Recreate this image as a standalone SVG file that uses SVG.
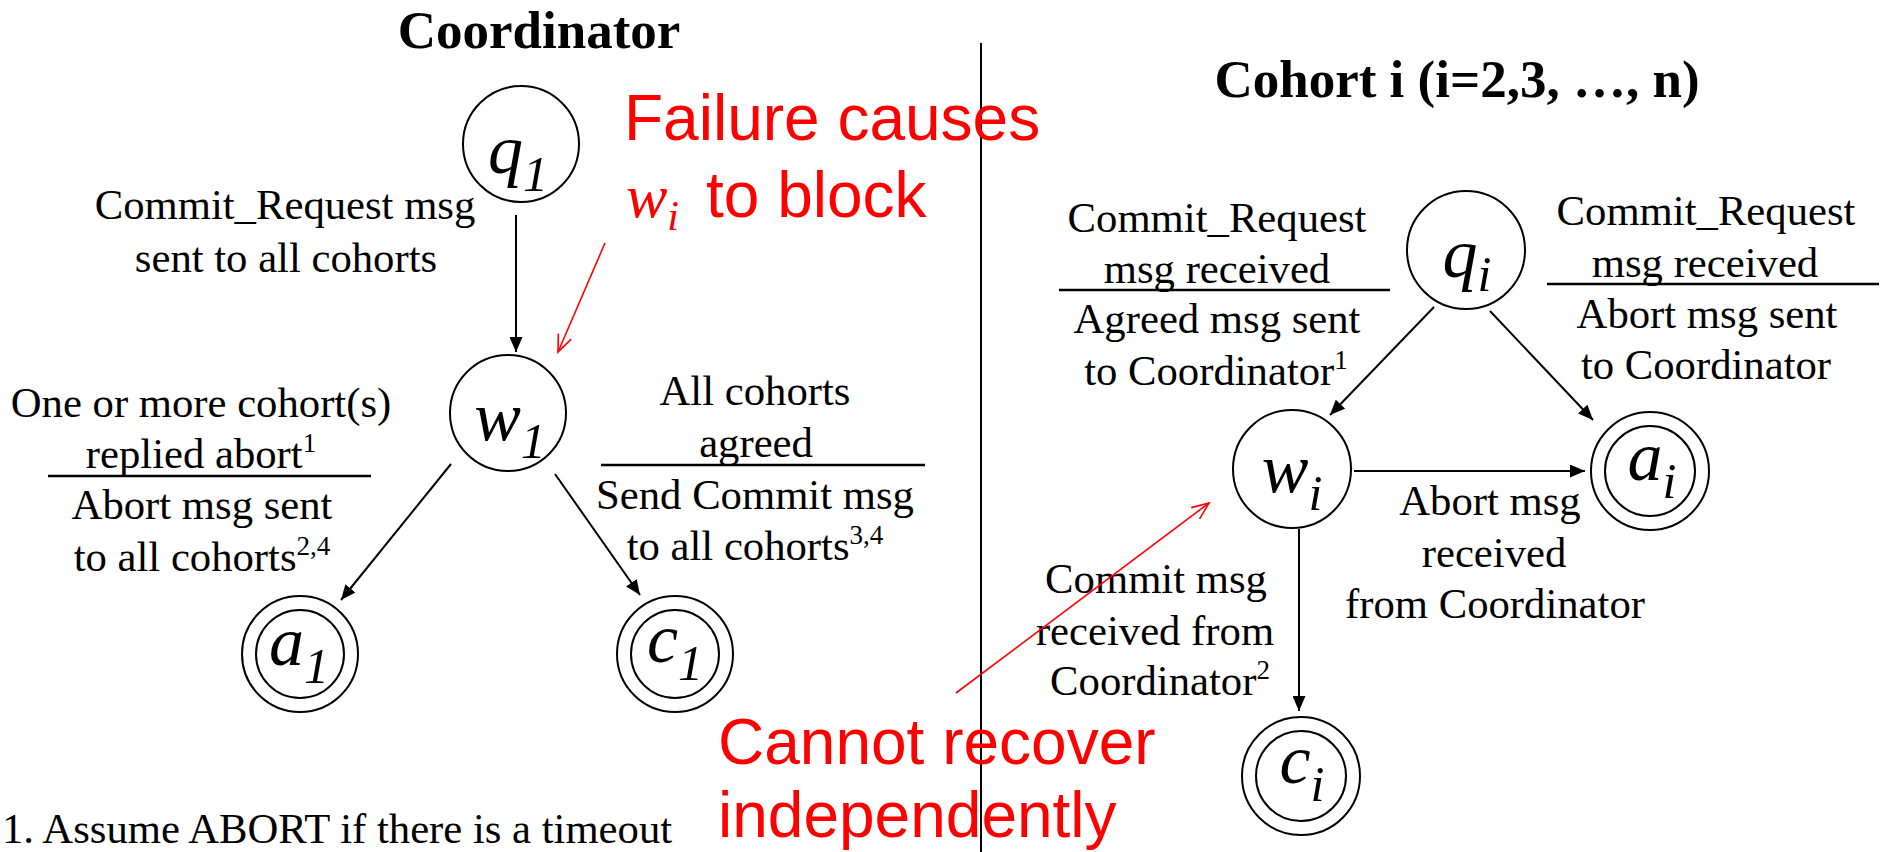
<svg xmlns="http://www.w3.org/2000/svg" width="1896" height="852" viewBox="0 0 1896 852">
  <style>
    .bg { fill: #ffffff; }
    .state { fill: #ffffff; stroke: #000000; stroke-width: 2; }
    .lbl { font-family: "Liberation Serif", "Times New Roman", serif; font-size: 42.7px; fill: #000000; text-anchor: middle; }
    .title { font-family: "Liberation Serif", "Times New Roman", serif; font-size: 53px; font-weight: bold; fill: #000000; text-anchor: middle; }
    .sym { font-family: "Liberation Serif", "Times New Roman", serif; font-style: italic; font-size: 70px; fill: #000000; text-anchor: middle; }
    .sub { font-size: 50px; }
    .sup { font-size: 27px; }
    .bar { stroke: #000000; stroke-width: 2.5; }
    .edge { stroke: #000000; stroke-width: 2; fill: none; marker-end: url(#head); }
    .note { font-family: "Liberation Sans", Arial, sans-serif; font-size: 64px; fill: #ff0000; }
    .noteSym { font-family: "Liberation Serif", "Times New Roman", serif; font-style: italic; font-size: 62px; fill: #ff0000; }
    .pointer { stroke: #ff0000; stroke-width: 1.6; fill: none; marker-end: url(#openHead); }
  </style>
  <defs>
    <marker id="head" markerUnits="userSpaceOnUse" markerWidth="16" markerHeight="13" refX="15" refY="6.5" orient="auto">
      <path d="M0,0 L15,6.5 L0,13 z" fill="#000000"/>
    </marker>
    <marker id="openHead" markerUnits="userSpaceOnUse" markerWidth="20" markerHeight="16" refX="18" refY="8" orient="auto">
      <path d="M1,1 L18,8 L1,15" fill="none" stroke="#ff0000" stroke-width="1.6"/>
    </marker>
  </defs>

  <rect class="bg" x="0" y="0" width="1896" height="852"/>

  <!-- divider between the two automata -->
  <line x1="981" y1="43" x2="981" y2="852" stroke="#000000" stroke-width="2"/>

  <!-- headings -->
  <text class="title" x="539" y="48">Coordinator</text>
  <text class="title" x="1457" y="97">Cohort i (i=2,3, …, n)</text>

  <!-- transitions -->
  <g id="connectors">
    <line class="edge" x1="516" y1="215" x2="516" y2="352"/>
    <line class="edge" x1="451" y1="464" x2="341" y2="600"/>
    <line class="edge" x1="555" y1="474" x2="640" y2="595"/>
    <line class="edge" x1="1434" y1="307" x2="1330" y2="415"/>
    <line class="edge" x1="1490" y1="311" x2="1593" y2="420"/>
    <line class="edge" x1="1354" y1="471" x2="1585" y2="471"/>
    <line class="edge" x1="1299" y1="529" x2="1299" y2="711"/>
  </g>

  <!-- coordinator states -->
  <g id="q1">
    <circle class="state" cx="521" cy="144" r="58"/>
    <text class="sym" x="518" y="173">q<tspan class="sub" dy="18">1</tspan></text>
  </g>
  <g id="w1">
    <circle class="state" cx="508" cy="413" r="58"/>
    <text class="sym" x="510" y="440">w<tspan class="sub" dy="18">1</tspan></text>
  </g>
  <g id="a1">
    <circle class="state" cx="300" cy="654" r="58"/>
    <circle class="state" cx="300" cy="654" r="44"/>
    <text class="sym" x="299" y="665">a<tspan class="sub" dy="18">1</tspan></text>
  </g>
  <g id="c1">
    <circle class="state" cx="675" cy="654" r="58"/>
    <circle class="state" cx="675" cy="654" r="44"/>
    <text class="sym" x="675" y="662">c<tspan class="sub" dy="18">1</tspan></text>
  </g>

  <!-- cohort states -->
  <g id="qi">
    <circle class="state" cx="1466" cy="250" r="59"/>
    <text class="sym" x="1467" y="277">q<tspan class="sub" dy="14">i</tspan></text>
  </g>
  <g id="wi">
    <circle class="state" cx="1292" cy="469" r="59"/>
    <text class="sym" x="1292" y="492">w<tspan class="sub" dy="18">i</tspan></text>
  </g>
  <g id="ai">
    <circle class="state" cx="1650" cy="471" r="59"/>
    <circle class="state" cx="1650" cy="471" r="45"/>
    <text class="sym" x="1652" y="480">a<tspan class="sub" dy="18">i</tspan></text>
  </g>
  <g id="ci">
    <circle class="state" cx="1301" cy="776" r="59"/>
    <circle class="state" cx="1301" cy="776" r="45"/>
    <text class="sym" x="1302" y="783">c<tspan class="sub" dy="18">i</tspan></text>
  </g>

  <!-- coordinator transition labels -->
  <g id="label-q1-w1">
    <text class="lbl" x="285" y="219">Commit_Request msg</text>
    <text class="lbl" x="286" y="272">sent to all cohorts</text>
  </g>
  <g id="label-w1-a1">
    <text class="lbl" x="201" y="417">One or more cohort(s)</text>
    <text class="lbl" x="201" y="468">replied abort<tspan class="sup" dy="-16">1</tspan></text>
    <line class="bar" x1="48" y1="476" x2="371" y2="476"/>
    <text class="lbl" x="202" y="519">Abort msg sent</text>
    <text class="lbl" x="202" y="571">to all cohorts<tspan class="sup" dy="-16">2,4</tspan></text>
  </g>
  <g id="label-w1-c1">
    <text class="lbl" x="755" y="405">All cohorts</text>
    <text class="lbl" x="756" y="457">agreed</text>
    <line class="bar" x1="601" y1="465" x2="925" y2="465"/>
    <text class="lbl" x="755" y="509">Send Commit msg</text>
    <text class="lbl" x="755" y="560">to all cohorts<tspan class="sup" dy="-16">3,4</tspan></text>
  </g>

  <!-- cohort transition labels -->
  <g id="label-qi-wi">
    <text class="lbl" x="1217" y="232">Commit_Request</text>
    <text class="lbl" x="1217" y="283">msg received</text>
    <line class="bar" x1="1059" y1="290" x2="1390" y2="290"/>
    <text class="lbl" x="1217" y="333">Agreed msg sent</text>
    <text class="lbl" x="1216" y="385">to Coordinator<tspan class="sup" dy="-16">1</tspan></text>
  </g>
  <g id="label-qi-ai">
    <text class="lbl" x="1706" y="225">Commit_Request</text>
    <text class="lbl" x="1705" y="277">msg received</text>
    <line class="bar" x1="1547" y1="284" x2="1879" y2="284"/>
    <text class="lbl" x="1707" y="328">Abort msg sent</text>
    <text class="lbl" x="1706" y="379">to Coordinator</text>
  </g>
  <g id="label-wi-ai">
    <text class="lbl" x="1490" y="515">Abort msg</text>
    <text class="lbl" x="1494" y="567">received</text>
    <text class="lbl" x="1495" y="618">from Coordinator</text>
  </g>
  <g id="label-wi-ci">
    <text class="lbl" x="1156" y="593">Commit msg</text>
    <text class="lbl" x="1155" y="645">received from</text>
    <text class="lbl" x="1160" y="695">Coordinator<tspan class="sup" dy="-16">2</tspan></text>
  </g>

  <!-- footnote -->
  <text class="lbl" x="2" y="843" style="text-anchor:start">1. Assume ABORT if there is a timeout</text>

  <!-- red annotations -->
  <g id="note-block">
    <text class="note" x="624" y="140">Failure causes</text>
    <text class="noteSym" x="626" y="217">w<tspan font-size="42" dy="13">i</tspan></text>
    <text class="note" x="706" y="217">to block</text>
    <line class="pointer" x1="605" y1="243" x2="558" y2="352"/>
  </g>
  <g id="note-recover">
    <line class="pointer" x1="956" y1="693" x2="1209" y2="503"/>
    <text class="note" x="718" y="764">Cannot recover</text>
    <text class="note" x="718" y="837">independently</text>
  </g>
</svg>
